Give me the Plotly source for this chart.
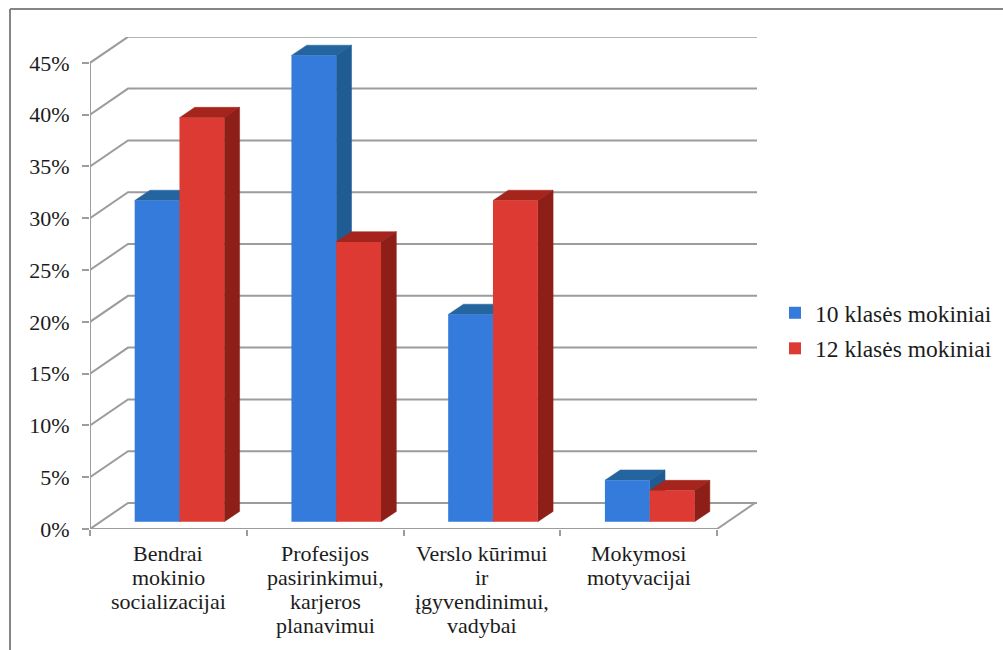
import plotly.graph_objects as go

categories = [["Bendrai", "mokinio", "socializacijai"],
              ["Profesijos", "pasirinkimui,", "karjeros", "planavimui"],
              ["Verslo kūrimui", "ir", "įgyvendinimui,", "vadybai"],
              ["Mokymosi", "motyvacijai"]]
series_10 = [31, 45, 20, 4]
series_12 = [39, 27, 31, 3]
y_ticks = [0, 5, 10, 15, 20, 25, 30, 35, 40, 45]
y_labels = [f"{v}%" for v in y_ticks]

W, H = 1003, 650
L, R, T, B = 90, 757, 37, 529
PX_X, PX_Y = 156.75, 10.36
FONT = "Liberation Serif"
TXT = "#1c1c1c"
GRID = "#9c9c9c"
LABEL_SIZE = 22
LINE_TOP, LINE_STEP = 553, 24

xr = (R - L) / PX_X
yr = (B - T) / PX_Y
wall_dx, wall_dy = 38 / PX_X, 26 / PX_Y
bar_w = 44.8 / PX_X
bar_shift = 11.1 / PX_X
bar_base = 7.3 / PX_Y
dep_dx, dep_dy = 15.3 / PX_X, 10.3 / PX_Y
n = len(categories)


def px(x):
    return (x - L) / (R - L)


def py(y):
    return (B - y) / (B - T)


fig = go.Figure()

# walls and floor
gx, gy = [], []
for v in y_ticks:
    gx += [0, wall_dx, xr, None]
    gy += [v, v + wall_dy, v + wall_dy, None]
gx += [0, 0, None, 0, n, n + wall_dx]
gy += [0, y_ticks[-1], None, 0, 0, wall_dy]
fig.add_trace(go.Scatter(x=gx, y=gy, mode="lines", line=dict(color=GRID, width=2),
                         showlegend=False, hoverinfo="skip", cliponaxis=False, zorder=0))


def add_series(name, values, sign, front, top, side, z):
    lefts = [i + 0.5 + bar_shift + (-bar_w if sign < 0 else 0) for i in range(n)]
    tx, ty, sx, sy = [], [], [], []
    for l, v in zip(lefts, values):
        r = l + bar_w
        t = v + bar_base
        tx += [l, l + dep_dx, r + dep_dx, r, l, None]
        ty += [t, t + dep_dy, t + dep_dy, t, t, None]
        sx += [r, r + dep_dx, r + dep_dx, r, r, None]
        sy += [bar_base, bar_base + dep_dy, t + dep_dy, t, bar_base, None]
    for xs, ys, c in ((tx, ty, top), (sx, sy, side)):
        fig.add_trace(go.Scatter(x=xs, y=ys, mode="lines", fill="toself", fillcolor=c,
                                 line=dict(color=c, width=0.5), showlegend=False,
                                 hoverinfo="skip", zorder=z))
    fig.add_trace(go.Bar(x=[l + bar_w / 2 for l in lefts], y=values, base=[bar_base] * n,
                         width=bar_w, name=name, marker=dict(color=front, line=dict(width=0)),
                         legendgroup=name, zorder=z + 1))


add_series("10 klasės mokiniai", series_10, -1, "#347bdc", "#24649f", "#1f5c94", 1)
add_series("12 klasės mokiniai", series_12, 1, "#dc3a32", "#a5251d", "#8e1f18", 3)

annotations = []
for i, lines in enumerate(categories):
    for j, text in enumerate(lines):
        annotations.append(dict(x=i + 0.5, xref="x", y=py(LINE_TOP + j * LINE_STEP), yref="paper",
                                text=text, showarrow=False, xanchor="center", yanchor="middle",
                                font=dict(family=FONT, size=LABEL_SIZE, color=TXT)))

fig.update_layout(
    width=W, height=H, autosize=False,
    margin=dict(l=L, r=W - R, t=T, b=H - B, pad=0, autoexpand=False),
    paper_bgcolor="white", plot_bgcolor="white",
    barmode="overlay", showlegend=True,
    font=dict(family=FONT, size=LABEL_SIZE, color=TXT),
    xaxis=dict(range=[0, xr], showgrid=False, zeroline=False, showline=False,
               tickmode="array", tickvals=list(range(n + 1)), ticktext=[""] * (n + 1),
               ticks="outside", ticklen=6, tickwidth=2, tickcolor=GRID),
    yaxis=dict(range=[0, yr], showgrid=False, zeroline=False, showline=False,
               tickmode="array", tickvals=y_ticks, ticktext=y_labels,
               ticks="outside", ticklen=7, tickwidth=2, tickcolor=GRID,
               ticklabelstandoff=8, tickfont=dict(family=FONT, size=LABEL_SIZE, color=TXT)),
    legend=dict(x=px(775), xanchor="left", y=py(331), yanchor="middle",
                traceorder="grouped", tracegroupgap=2,
                itemclick=False, itemdoubleclick=False,
                font=dict(family=FONT, size=23.5, color=TXT), bgcolor="rgba(0,0,0,0)"),
    annotations=annotations,
    shapes=[
        dict(type="line", xref="paper", yref="paper", x0=px(10), x1=px(10), y0=py(650), y1=py(9),
             line=dict(color="#858585", width=2)),
        dict(type="line", xref="paper", yref="paper", x0=px(10), x1=px(1003), y0=py(9), y1=py(9),
             line=dict(color="#858585", width=2)),
    ],
)

fig.write_html("out.html", config={"displayModeBar": False},
               post_script="document.body.style.margin='0';document.documentElement.style.overflow='hidden';")
